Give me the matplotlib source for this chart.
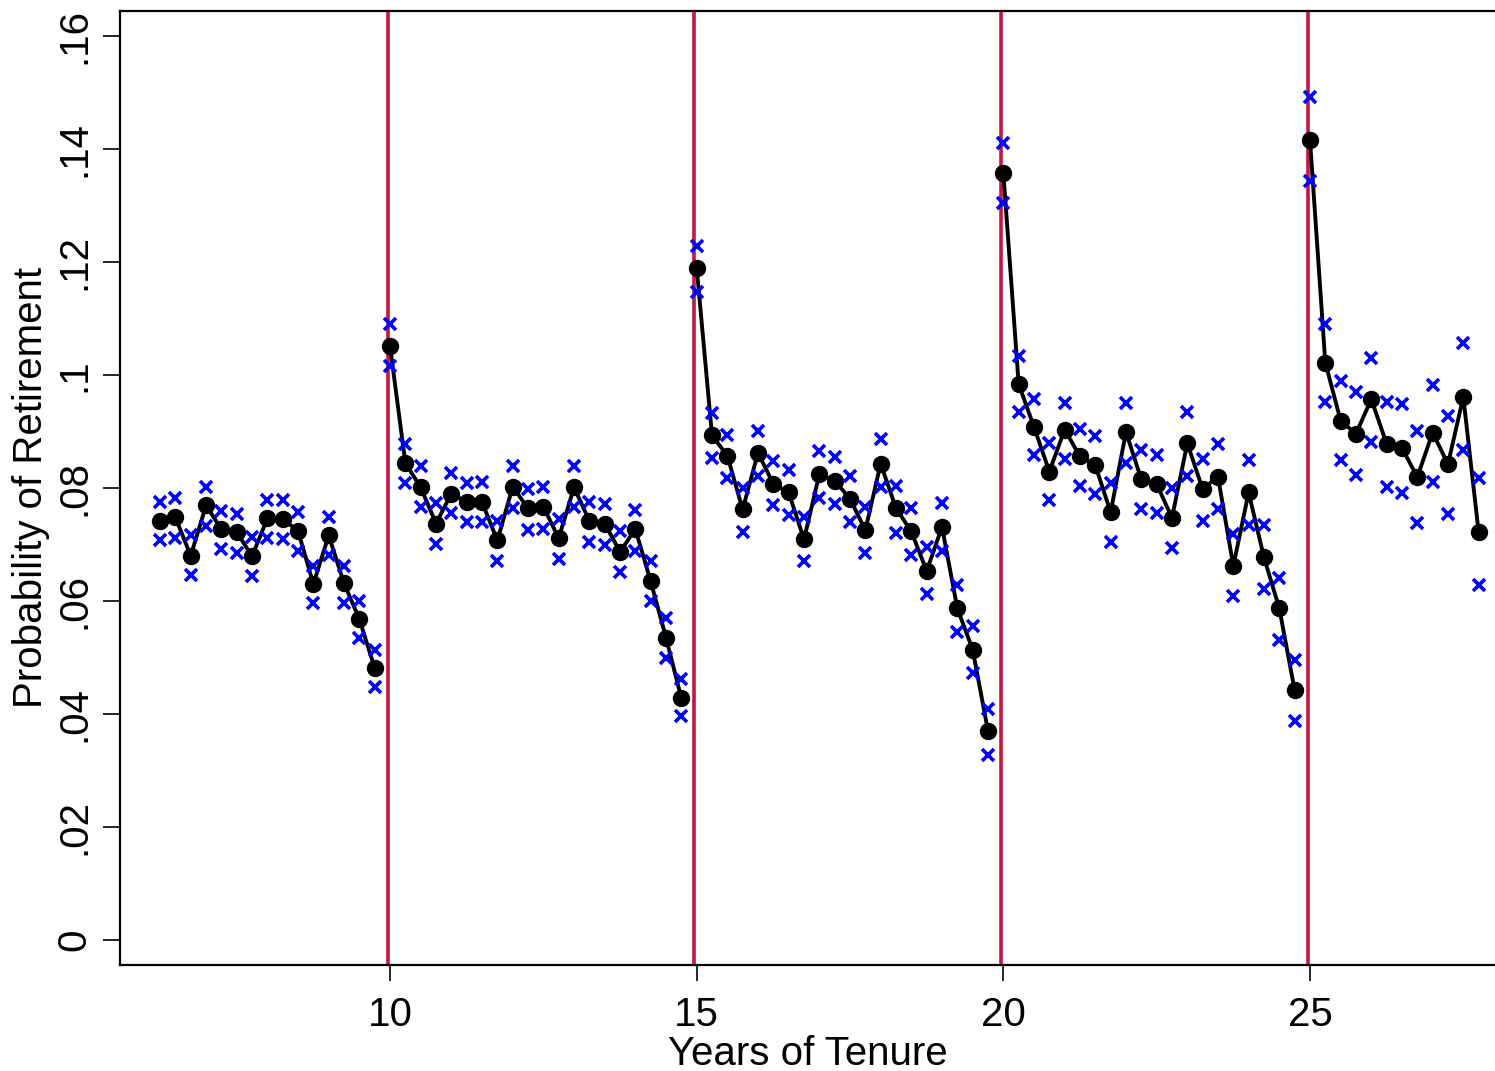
import matplotlib
matplotlib.use('Agg')
import matplotlib.pyplot as plt
import numpy as np

plt.rcParams['font.family'] = ['Liberation Sans', 'DejaVu Sans']

# quarterly tenure points (years)
tenure = [6.25, 6.5, 6.75, 7.0, 7.25, 7.5, 7.75, 8.0, 8.25, 8.5, 8.75, 9.0, 9.25, 9.5, 9.75,
          10.0, 10.25, 10.5, 10.75, 11.0, 11.25, 11.5, 11.75, 12.0, 12.25, 12.5, 12.75,
          13.0, 13.25, 13.5, 13.75, 14.0, 14.25, 14.5, 14.75,
          15.0, 15.25, 15.5, 15.75, 16.0, 16.25, 16.5, 16.75, 17.0, 17.25, 17.5, 17.75,
          18.0, 18.25, 18.5, 18.75, 19.0, 19.25, 19.5, 19.75,
          20.0, 20.25, 20.5, 20.75, 21.0, 21.25, 21.5, 21.75, 22.0, 22.25, 22.5, 22.75,
          23.0, 23.25, 23.5, 23.75, 24.0, 24.25, 24.5, 24.75,
          25.0, 25.25, 25.5, 25.75, 26.0, 26.25, 26.5, 26.75, 27.0, 27.25, 27.5, 27.75]

# point estimates
prob = [0.0742, 0.0748, 0.0680, 0.0769, 0.0727, 0.0722, 0.0679, 0.0746, 0.0745, 0.0724,
        0.0630, 0.0716, 0.0631, 0.0568, 0.0481,
        0.1051, 0.0844, 0.0801, 0.0737, 0.0790, 0.0775, 0.0775, 0.0707, 0.0802, 0.0764,
        0.0767, 0.0711, 0.0801, 0.0742, 0.0737, 0.0687, 0.0727, 0.0635, 0.0535, 0.0428,
        0.1190, 0.0893, 0.0857, 0.0762, 0.0862, 0.0807, 0.0792, 0.0709, 0.0824, 0.0813,
        0.0781, 0.0725, 0.0843, 0.0764, 0.0723, 0.0653, 0.0731, 0.0587, 0.0514, 0.0370,
        0.1358, 0.0984, 0.0908, 0.0829, 0.0903, 0.0856, 0.0840, 0.0757, 0.0899, 0.0815,
        0.0807, 0.0747, 0.0879, 0.0798, 0.0820, 0.0662, 0.0792, 0.0677, 0.0587, 0.0442,
        0.1416, 0.1022, 0.0919, 0.0896, 0.0957, 0.0878, 0.0871, 0.0819, 0.0898, 0.0842,
        0.0961, 0.0722]

# confidence bounds
ci_upper = [0.0776, 0.0782, 0.0717, 0.0802, 0.0760, 0.0754, 0.0714, 0.0779, 0.0779, 0.0758,
            0.0662, 0.0749, 0.0662, 0.0600, 0.0513,
            0.1090, 0.0878, 0.0839, 0.0773, 0.0826, 0.0809, 0.0810, 0.0742, 0.0838, 0.0798,
            0.0801, 0.0745, 0.0838, 0.0776, 0.0772, 0.0724, 0.0761, 0.0670, 0.0569, 0.0462,
            0.1229, 0.0932, 0.0894, 0.0800, 0.0900, 0.0848, 0.0832, 0.0748, 0.0865, 0.0854,
            0.0821, 0.0766, 0.0886, 0.0804, 0.0764, 0.0696, 0.0774, 0.0629, 0.0556, 0.0409,
            0.1410, 0.1033, 0.0957, 0.0879, 0.0951, 0.0904, 0.0892, 0.0809, 0.0951, 0.0867,
            0.0859, 0.0800, 0.0934, 0.0852, 0.0877, 0.0718, 0.0850, 0.0734, 0.0641, 0.0495,
            0.1491, 0.1091, 0.0990, 0.0969, 0.1030, 0.0952, 0.0948, 0.0901, 0.0982, 0.0927,
            0.1057, 0.0818]
ci_lower = [0.0707, 0.0712, 0.0646, 0.0733, 0.0692, 0.0684, 0.0644, 0.0711, 0.0710, 0.0689,
            0.0596, 0.0681, 0.0596, 0.0534, 0.0447,
            0.1015, 0.0808, 0.0766, 0.0701, 0.0755, 0.0739, 0.0739, 0.0671, 0.0764, 0.0726,
            0.0728, 0.0674, 0.0766, 0.0705, 0.0699, 0.0652, 0.0689, 0.0600, 0.0499, 0.0396,
            0.1147, 0.0853, 0.0818, 0.0722, 0.0821, 0.0769, 0.0752, 0.0670, 0.0782, 0.0772,
            0.0739, 0.0684, 0.0801, 0.0720, 0.0681, 0.0613, 0.0689, 0.0545, 0.0472, 0.0328,
            0.1305, 0.0935, 0.0858, 0.0778, 0.0852, 0.0804, 0.0789, 0.0705, 0.0845, 0.0762,
            0.0755, 0.0693, 0.0822, 0.0742, 0.0763, 0.0608, 0.0734, 0.0621, 0.0531, 0.0388,
            0.1343, 0.0952, 0.0850, 0.0823, 0.0881, 0.0802, 0.0791, 0.0738, 0.0810, 0.0754,
            0.0868, 0.0629]

xlines = [10, 15, 20, 25]
xticks = [10, 15, 20, 25]
yticks = [0, 0.02, 0.04, 0.06, 0.08, 0.10, 0.12, 0.14, 0.16]
ytick_labels = ['0', '.02', '.04', '.06', '.08', '.1', '.12', '.14', '.16']

t = np.array(tenure)
p = np.array(prob)

fig = plt.figure(figsize=(14.95, 10.71), dpi=100)
ax = fig.add_axes([0.0803, 0.099, 0.9197, 0.8908])

for xl in xlines:
    ax.axvline(xl - 0.04, color='#C81441', linewidth=2.6, zorder=1)

# black connected line, broken at each 5-year boundary
seg = np.floor(t / 5)
for s in np.unique(seg):
    m = seg == s
    ax.plot(t[m], p[m], '-', color='black', linewidth=2.8, zorder=3)
ax.plot(t, p, 'o', color='black', markersize=11.5, zorder=4)

ax.plot(tenure, ci_upper, 'x', color='#0000FF', markersize=8, markeredgewidth=2.6, zorder=5)
ax.plot(tenure, ci_lower, 'x', color='#0000FF', markersize=8, markeredgewidth=2.6, zorder=5)

ax.set_xlim(5.598, 28.017)
ax.set_ylim(-0.00442, 0.16442)

ax.set_xticks(xticks)
ax.set_xticklabels([str(v) for v in xticks], fontsize=29)
ax.set_yticks(yticks)
ax.set_yticklabels(ytick_labels, fontsize=29, rotation=90, va='center')
ax.tick_params(axis='x', length=11.5, width=1.2, pad=11)
ax.tick_params(axis='y', length=12, width=1.2, pad=7)

ax.spines['right'].set_visible(False)
for side in ['left', 'bottom', 'top']:
    ax.spines[side].set_linewidth(1.6)

ax.set_xlabel('Years of Tenure', fontsize=29, labelpad=0.5)
ax.set_ylabel('Probability of Retirement', fontsize=29, labelpad=4)

fig.savefig('out.png', dpi=100)
